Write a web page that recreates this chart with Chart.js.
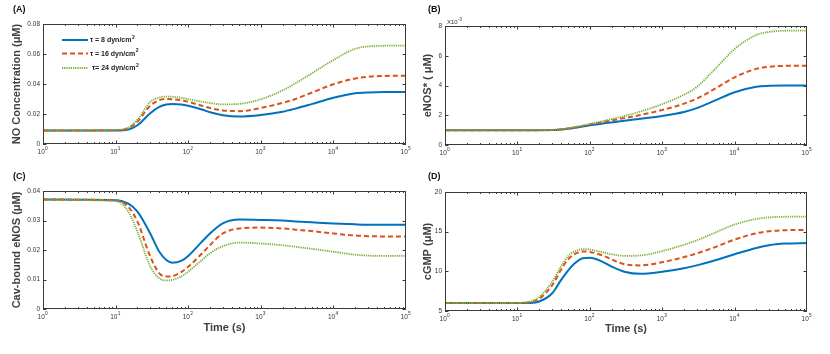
<!DOCTYPE html>
<html>
<head>
<meta charset="utf-8">
<script src="https://cdn.jsdelivr.net/npm/chart.js@4.4.0/dist/chart.umd.min.js"></script>
<style>
  html, body { margin: 0; padding: 0; background: #fff; }
  #wrap { position: relative; width: 830px; height: 354px; }
  canvas { position: absolute; }
</style>
</head>
<body>
<div id="wrap">
  <canvas id="chartA" width="415" height="170" style="left:0;top:0"></canvas>
  <canvas id="chartB" width="415" height="170" style="left:415px;top:0"></canvas>
  <canvas id="chartC" width="415" height="184" style="left:0;top:170px"></canvas>
  <canvas id="chartD" width="415" height="184" style="left:415px;top:170px"></canvas>
</div>
<script>
// time points (s), shared by all panels
var times = [1, 10, 15, 20, 30, 40, 50, 60, 80, 100, 150, 200, 300, 500, 1000, 2000, 3000, 5000, 10000, 20000, 30000, 50000, 100000];

var tauLabels = ['\u03c4 = 8 dyn/cm', '\u03c4 = 16 dyn/cm', '\u03c4= 24 dyn/cm'];
var lineColors = ['#0072BD', '#D95319', '#77AC30'];
var lineDashes = [[], [5, 3], [1.2, 1]];

// (A) NO concentration, uM
var noTau8  = [0.009, 0.009, 0.0097, 0.0125, 0.0205, 0.0247, 0.0263, 0.0267, 0.0264, 0.0255, 0.0232, 0.0212, 0.0192, 0.0183, 0.0193, 0.0215, 0.0236, 0.0266, 0.0308, 0.0338, 0.0344, 0.0346, 0.0346];
var noTau16 = [0.009, 0.0092, 0.0105, 0.015, 0.0255, 0.0292, 0.03, 0.0299, 0.0292, 0.0281, 0.0257, 0.024, 0.0224, 0.0219, 0.024, 0.0275, 0.03, 0.0342, 0.0398, 0.0437, 0.0448, 0.0454, 0.0455];
var noTau24 = [0.009, 0.0094, 0.011, 0.0162, 0.028, 0.031, 0.0316, 0.0315, 0.0308, 0.0299, 0.0283, 0.0273, 0.0264, 0.0267, 0.0298, 0.0358, 0.0405, 0.047, 0.056, 0.0635, 0.065, 0.0655, 0.0656];

// (B) eNOS*, x10^-3 uM
var enosTau8  = [1.0, 1.0, 1.0, 1.0, 1.01, 1.05, 1.1, 1.15, 1.24, 1.32, 1.44, 1.52, 1.63, 1.76, 1.95, 2.22, 2.48, 2.93, 3.55, 3.92, 3.98, 4.0, 4.0];
var enosTau16 = [1.0, 1.0, 1.0, 1.0, 1.01, 1.05, 1.11, 1.17, 1.28, 1.38, 1.54, 1.65, 1.81, 2.02, 2.35, 2.78, 3.12, 3.7, 4.55, 5.12, 5.26, 5.32, 5.33];
var enosTau24 = [1.0, 1.0, 1.0, 1.0, 1.02, 1.06, 1.12, 1.19, 1.31, 1.42, 1.6, 1.74, 1.95, 2.25, 2.75, 3.38, 3.9, 4.95, 6.45, 7.4, 7.6, 7.68, 7.69];

// (C) Cav-bound eNOS, uM
var cavTau8  = [0.0371, 0.0369, 0.0357, 0.033, 0.0256, 0.0194, 0.0166, 0.0157, 0.0163, 0.018, 0.0225, 0.0256, 0.029, 0.0303, 0.0302, 0.03, 0.0297, 0.0294, 0.029, 0.0287, 0.0286, 0.0286, 0.0286];
var cavTau16 = [0.0371, 0.0368, 0.0346, 0.0296, 0.0178, 0.0121, 0.011, 0.0111, 0.0125, 0.0143, 0.0185, 0.0217, 0.0256, 0.0273, 0.0276, 0.0273, 0.0269, 0.0264, 0.0256, 0.0249, 0.0247, 0.0246, 0.0246];
var cavTau24 = [0.037, 0.0366, 0.033, 0.0262, 0.0144, 0.0104, 0.0097, 0.0099, 0.011, 0.0127, 0.0163, 0.0189, 0.0213, 0.0225, 0.0222, 0.0216, 0.0211, 0.0204, 0.0194, 0.0184, 0.0181, 0.018, 0.018];

// (D) cGMP, uM
var cgmpTau8  = [6, 6, 6.02, 6.2, 7.2, 8.9, 10.1, 10.9, 11.65, 11.7, 11.2, 10.6, 9.95, 9.68, 9.95, 10.4, 10.75, 11.3, 12.15, 12.95, 13.3, 13.5, 13.57];
var cgmpTau16 = [6, 6, 6.1, 6.55, 8.2, 10.2, 11.5, 12.1, 12.5, 12.45, 12.0, 11.5, 10.9, 10.75, 11.15, 11.8, 12.25, 12.95, 14.0, 14.8, 15.05, 15.18, 15.22];
var cgmpTau24 = [6, 6.02, 6.2, 6.75, 8.65, 10.6, 11.9, 12.45, 12.8, 12.75, 12.4, 12.15, 11.95, 12.0, 12.55, 13.35, 13.9, 14.75, 15.9, 16.6, 16.8, 16.88, 16.9];

// tick labels
var xTickPowers = [0, 1, 2, 3, 4, 5];
var noTicks = [0, 0.02, 0.04, 0.06, 0.08];
var enosTicks = [0, 2, 4, 6, 8];
var cavTicks = [0, 0.01, 0.02, 0.03, 0.04];
var cgmpTicks = [5, 10, 15, 20];

var FONT = '"Liberation Sans", Arial, Helvetica, sans-serif';
var AXIS_COLOR = '#3a3a3a';

function makeSets(values) {
    return values.map(function (vals, i) {
        return {
            label: tauLabels[i],
            data: times.map(function (t, j) { return { x: t, y: vals[j] }; }),
            borderColor: lineColors[i],
            borderWidth: i === 2 ? 1.8 : 2,
            borderDash: lineDashes[i],
            pointRadius: 0,
            cubicInterpolationMode: 'monotone',
            fill: false,
            order: 2 - i
        };
    });
}

// "10" with a raised exponent, centred on cx
function drawPower(ctx, cx, y, base, exp, size) {
    ctx.font = size + 'px ' + FONT;
    var wb = ctx.measureText(base).width;
    ctx.font = (size * 0.75) + 'px ' + FONT;
    var we = ctx.measureText(exp).width;
    var x0 = cx - (wb + we) / 2;
    ctx.textAlign = 'left';
    ctx.textBaseline = 'alphabetic';
    ctx.font = size + 'px ' + FONT;
    ctx.fillText(base, x0, y);
    ctx.font = (size * 0.75) + 'px ' + FONT;
    ctx.fillText(exp, x0 + wb + 0.3, y - size * 0.5);
}

var decorPlugin = {
    id: 'decor',
    afterDatasetsDraw: function (chart, args, opts) {
        var ctx = chart.ctx, a = chart.chartArea;
        var xs = chart.scales.x, ys = chart.scales.y;
        ctx.save();
        ctx.strokeStyle = AXIS_COLOR;
        ctx.lineWidth = 1;
        ctx.setLineDash([]);
        ctx.strokeRect(a.left + 0.5, a.top + 0.5, a.right - a.left - 1, a.bottom - a.top - 1);

        // log ticks, inside, top and bottom
        ctx.beginPath();
        for (var p = 0; p < 5; p++) {
            for (var m = 1; m <= 9; m++) {
                var px = Math.round(xs.getPixelForValue(m * Math.pow(10, p))) + 0.5;
                var len = m === 1 ? 3.5 : 2;
                ctx.moveTo(px, a.bottom); ctx.lineTo(px, a.bottom - len);
                ctx.moveTo(px, a.top); ctx.lineTo(px, a.top + len);
            }
        }
        ys.ticks.forEach(function (t) {
            var py = Math.round(ys.getPixelForValue(t.value)) + 0.5;
            ctx.moveTo(a.left, py); ctx.lineTo(a.left + 3.5, py);
            ctx.moveTo(a.right, py); ctx.lineTo(a.right - 3.5, py);
        });
        ctx.stroke();

        // x tick labels 10^n
        ctx.fillStyle = '#333';
        xTickPowers.forEach(function (n) {
            var px = xs.getPixelForValue(Math.pow(10, n));
            drawPower(ctx, px - 0.5, a.bottom + 9.5, '10', String(n), 6.5);
        });

        // panel letter
        ctx.fillStyle = '#111';
        ctx.font = 'bold 9px ' + FONT;
        ctx.textAlign = 'left';
        ctx.textBaseline = 'middle';
        ctx.fillText(opts.letter[0], opts.letter[1], opts.letter[2]);

        // y title
        ctx.fillStyle = '#404040';
        ctx.font = 'bold 11px ' + FONT;
        ctx.textAlign = 'center';
        ctx.textBaseline = 'middle';
        ctx.save();
        ctx.translate(opts.yTitleX, (a.top + a.bottom) / 2);
        ctx.rotate(-Math.PI / 2);
        ctx.fillText(opts.yTitle, 0, 0);
        ctx.restore();

        if (opts.xTitle) {
            ctx.fillText(opts.xTitle, (a.left + a.right) / 2, a.bottom + opts.xTitleDy);
        }

        if (opts.scaleNote) {
            ctx.fillStyle = '#333';
            ctx.font = '6px ' + FONT;
            ctx.textAlign = 'left';
            ctx.textBaseline = 'alphabetic';
            ctx.fillText('X10', a.left + 2, a.top - 2);
            var w = ctx.measureText('X10').width;
            ctx.font = '4.5px ' + FONT;
            ctx.fillText('-3', a.left + 2 + w + 0.3, a.top - 5);
        }

        if (opts.legend) {
            var rows = [40, 53.5, 68];
            var textX = [90, 90, 92];
            chart.data.datasets.forEach(function (ds, i) {
                ctx.strokeStyle = ds.borderColor;
                ctx.lineWidth = ds.borderWidth;
                ctx.setLineDash(ds.borderDash);
                ctx.beginPath();
                ctx.moveTo(62, rows[i]);
                ctx.lineTo(88, rows[i]);
                ctx.stroke();
                ctx.setLineDash([]);
                ctx.fillStyle = '#222';
                ctx.font = 'bold 7px ' + FONT;
                ctx.textAlign = 'left';
                ctx.textBaseline = 'middle';
                ctx.fillText(ds.label, textX[i], rows[i] + 0.5);
                var tw = ctx.measureText(ds.label).width;
                ctx.font = 'bold 5px ' + FONT;
                ctx.fillText('2', textX[i] + tw + 0.5, rows[i] - 2.5);
            });
        }
        ctx.restore();
    }
};

function makePanel(id, values, ticks, fmt, layout, decor) {
    var ctx = document.getElementById(id).getContext('2d');
    return new Chart(ctx, {
        type: 'line',
        data: { datasets: makeSets(values) },
        options: {
            responsive: false,
            animation: false,
            layout: { padding: { left: 0, right: layout.right, top: layout.top, bottom: 0 } },
            plugins: {
                legend: { display: false },
                tooltip: { enabled: false },
                decor: decor
            },
            scales: {
                x: {
                    type: 'logarithmic',
                    min: 1,
                    max: 100000,
                    grid: { display: false, drawTicks: false },
                    border: { display: false },
                    ticks: { display: false },
                    afterFit: function (s) { s.height = layout.xHeight; }
                },
                y: {
                    type: 'linear',
                    min: ticks[0],
                    max: ticks[ticks.length - 1],
                    grid: { display: false, drawTicks: false },
                    border: { display: false },
                    afterBuildTicks: function (s) {
                        s.ticks = ticks.map(function (v) { return { value: v }; });
                    },
                    ticks: {
                        padding: 3,
                        color: '#333',
                        font: { family: FONT, size: 6.5 },
                        callback: fmt
                    },
                    afterFit: function (s) { s.width = layout.yWidth; }
                }
            }
        },
        plugins: [decorPlugin]
    });
}

function fmt2(v) { return v === 0 ? '0' : v.toFixed(2); }
function fmt0(v) { return String(v); }

makePanel('chartA', [noTau8, noTau16, noTau24], noTicks, fmt2,
    { right: 9, top: 24, xHeight: 26, yWidth: 43 },
    { letter: ['(A)', 13, 10], yTitle: 'NO Concentration (\u03bcM)', yTitleX: 17, legend: true });

makePanel('chartB', [enosTau8, enosTau16, enosTau24], enosTicks, fmt0,
    { right: 23, top: 26, xHeight: 25, yWidth: 30 },
    { letter: ['(B)', 13, 9.5], yTitle: 'eNOS* ( \u03bcM)', yTitleX: 13, scaleNote: true });

makePanel('chartC', [cavTau8, cavTau16, cavTau24], cavTicks, fmt2,
    { right: 9, top: 21, xHeight: 45, yWidth: 43 },
    { letter: ['(C)', 13, 7], yTitle: 'Cav-bound eNOS (\u03bcM)', yTitleX: 17, xTitle: 'Time (s)', xTitleDy: 19 });

makePanel('chartD', [cgmpTau8, cgmpTau16, cgmpTau24], cgmpTicks, fmt0,
    { right: 23, top: 22, xHeight: 43, yWidth: 30 },
    { letter: ['(D)', 13, 7], yTitle: 'cGMP (\u03bcM)', yTitleX: 13, xTitle: 'Time (s)', xTitleDy: 18 });
</script>
</body>
</html>
